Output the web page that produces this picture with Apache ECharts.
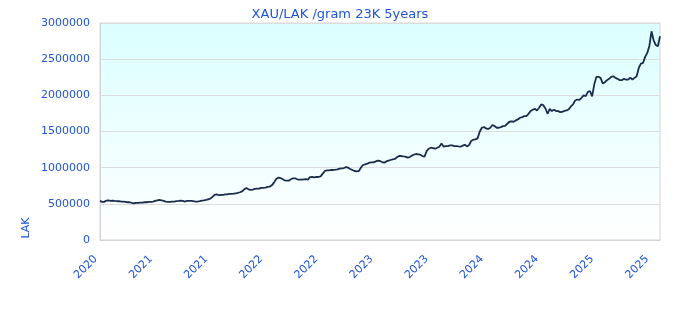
<!DOCTYPE html>
<html>
<head>
<meta charset="utf-8">
<script src="https://cdn.jsdelivr.net/npm/echarts@6/dist/echarts.min.js"></script>
<style>html,body{margin:0;padding:0;background:#fff}#c{width:680px;height:320px}</style>
</head>
<body>
<div id="c"></div>
<script>
// Weekly samples starting 2020-11-16
var startDate = '2020-11-16';
var values = [
540000,527000,527000,545000,549000,540000,545000,540000,536000,536000,
531000,531000,527000,522000,522000,513000,508000,513000,513000,517000,
517000,522000,522000,527000,527000,531000,540000,549000,554000,549000,
540000,531000,527000,527000,531000,531000,536000,540000,545000,540000,
531000,540000,540000,540000,536000,531000,531000,536000,545000,549000,
554000,563000,572000,595000,623000,632000,618000,623000,623000,632000,
632000,637000,637000,641000,646000,651000,660000,673000,701000,720000,
701000,692000,697000,706000,710000,710000,720000,720000,724000,733000,
738000,756000,793000,839000,862000,857000,843000,825000,820000,820000,
839000,853000,853000,839000,834000,834000,839000,843000,835000,870000,
871000,866000,871000,871000,880000,917000,954000,963000,963000,968000,
968000,972000,977000,986000,991000,995000,1009000,1000000,982000,968000,
954000,949000,954000,1000000,1037000,1046000,1055000,1069000,1073000,1073000,
1087000,1096000,1092000,1078000,1069000,1087000,1097000,1106000,1115000,1120000,
1143000,1161000,1161000,1156000,1152000,1138000,1147000,1166000,1179000,1189000,
1184000,1179000,1161000,1152000,1230000,1262000,1276000,1271000,1262000,1276000,
1290000,1336000,1290000,1299000,1299000,1308000,1308000,1299000,1299000,1294000,
1290000,1304000,1317000,1294000,1313000,1368000,1387000,1391000,1405000,1497000,
1552000,1561000,1542000,1533000,1552000,1589000,1575000,1552000,1552000,1561000,
1575000,1579000,1607000,1635000,1639000,1635000,1653000,1667000,1690000,1699000,
1713000,1713000,1745000,1782000,1800000,1814000,1791000,1828000,1874000,1864000,
1818000,1745000,1814000,1782000,1800000,1782000,1782000,1768000,1773000,1786000,
1791000,1809000,1846000,1874000,1929000,1942000,1938000,1966000,1998000,1989000,
2048000,2060000,1985000,2149000,2255000,2255000,2241000,2163000,2181000,2209000,
2228000,2255000,2264000,2241000,2228000,2209000,2209000,2228000,2218000,2218000,
2246000,2218000,2241000,2264000,2379000,2439000,2448000,2531000,2586000,2687000,
2885000,2761000,2696000,2678000,2816000
];
var yTicks = [0, 500000, 1000000, 1500000, 2000000, 2500000, 3000000];

var categories = [];
(function(){
  var d = new Date(startDate + 'T00:00:00Z');
  for (var i = 0; i < values.length; i++) {
    var t = new Date(d.getTime() + i * 7 * 86400000);
    categories.push(t.toISOString().slice(0, 10));
  }
})();

var blue = '#1f55d6';
var font = 'DejaVu Sans';
var chart = echarts.init(document.getElementById('c'), null, {renderer: 'canvas'});
chart.setOption({
  animation: false,
  backgroundColor: '#ffffff',
  title: {
    text: 'XAU/LAK /gram 23K 5years',
    left: 'center',
    top: 3,
    textStyle: {color: blue, fontSize: 13, fontWeight: 'normal', fontFamily: font}
  },
  grid: {
    left: 100, right: 20, top: 23, bottom: 80,
    show: true,
    borderColor: '#d4d4d4',
    borderWidth: 1,
    backgroundColor: {
      type: 'linear', x: 0, y: 0, x2: 0, y2: 1,
      colorStops: [{offset: 0, color: '#dbffff'}, {offset: 1, color: '#ffffff'}]
    }
  },
  xAxis: {
    type: 'category',
    data: categories,
    boundaryGap: false,
    axisLine: {show: true, lineStyle: {color: '#d4d4d4'}},
    axisTick: {show: false},
    splitLine: {show: false},
    axisLabel: {
      interval: 25,
      rotate: 45,
      color: blue,
      fontSize: 11,
      fontFamily: font,
      margin: 13,
      padding: [0, 6, 0, 0],
      formatter: function (v) { return v.slice(0, 4); }
    }
  },
  yAxis: {
    type: 'value',
    min: yTicks[0],
    max: yTicks[yTicks.length - 1],
    interval: 500000,
    axisLine: {show: true, lineStyle: {color: '#d4d4d4'}},
    axisTick: {show: false},
    splitLine: {show: true, lineStyle: {color: '#dcdcdc'}},
    axisLabel: {
      color: blue, fontSize: 11, fontFamily: font, margin: 10,
      formatter: function (v) { return String(v); }
    }
  },
  graphic: [{
    type: 'text',
    x: 26, y: 228,
    rotation: Math.PI / 2,
    style: {
      text: 'LAK', fill: blue, font: '11px "DejaVu Sans"',
      align: 'center', verticalAlign: 'middle',
      textAlign: 'center', textVerticalAlign: 'middle'
    }
  }],
  series: [{
    type: 'line',
    data: values,
    showSymbol: false,
    symbol: 'none',
    lineStyle: {color: '#1a2d4d', width: 1.8},
    itemStyle: {color: '#1a2d4d'}
  }]
});
</script>
</body>
</html>
